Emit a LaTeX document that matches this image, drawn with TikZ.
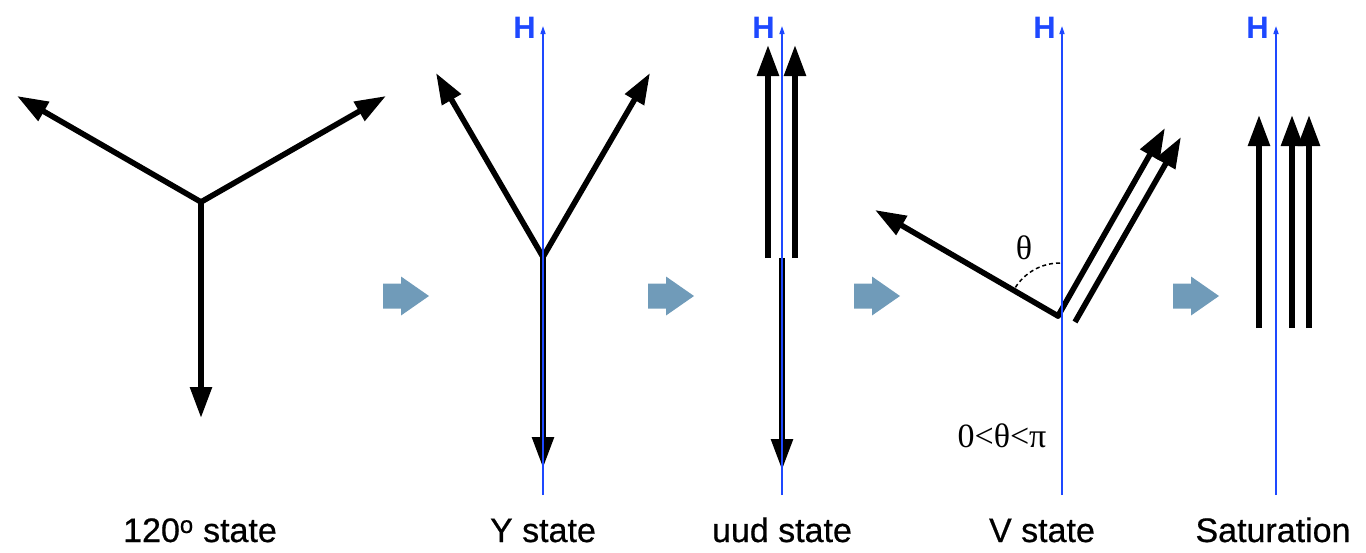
\documentclass[tikz,border=0pt]{standalone}
\usepackage{fontspec}
\setmainfont{Liberation Sans}
\newfontfamily\capfont{Liberation Sans}[FakeBold=0.6]
\newfontfamily\greekserif{Liberation Serif}
\usetikzlibrary{arrows.meta}
\definecolor{fieldblue}{RGB}{30,72,255}
\definecolor{stepblue}{RGB}{112,155,185}

\begin{document}
\begin{tikzpicture}[x=1pt,y=-1pt,
  spin/.style={line width=5.6pt,-{Triangle[length=31pt,width=21pt]}},
  joint/.style={line cap=round},
  field/.style={draw=fieldblue,line width=1.5pt,-{Triangle[length=8pt,width=5pt]}},
  hlabel/.style={text=fieldblue,font=\fontsize{31}{31}\selectfont\bfseries,inner sep=0pt,anchor=east},
  caption/.style={font=\capfont\fontsize{34}{34}\selectfont,anchor=base,inner sep=0pt},
  greek/.style={font=\greekserif\fontsize{34}{34}\selectfont,inner sep=0pt},
  anglearc/.style={line width=1.5pt,dash pattern=on 4pt off 3pt},
  steparrow/.pic={\fill[stepblue] (0,-12.5) -- (18,-12.5) -- (18,-19.5) -- (46,0)
                    -- (18,19.5) -- (18,12.5) -- (0,12.5) -- cycle;}
]
\useasboundingbox (0,0) rectangle (1366,552);

% ---------- 120 degree state ----------
\coordinate (a-c)  at (201,202);
\coordinate (a-ul) at (17,96);
\coordinate (a-ur) at (386,96);
\coordinate (a-d)  at (201,418);
\draw[spin,joint] (a-c) -- (a-ul);
\draw[spin,joint] (a-c) -- (a-ur);
\draw[spin,joint] (a-c) -- (a-d);
\node[caption] (a-cap) at (200,542) {120\textsuperscript{o} state};

\pic at (383,296) {steparrow};

% ---------- Y state ----------
\coordinate (y-c)   at (543,257);
\coordinate (y-ul)  at (436,73);
\coordinate (y-ur)  at (650,73);
\coordinate (y-d)   at (543,468);
\coordinate (y-bot) at (543,495);
\coordinate (y-top) at (543,26);
\draw[spin,joint] (y-c) -- (y-ul);
\draw[spin,joint] (y-c) -- (y-ur);
\draw[spin] (y-c) -- (y-d);
\draw[field] (y-bot) -- (y-top);
\node[hlabel] (y-H) at (536,28) {H};
\node[caption] (y-cap) at (543,542) {Y state};

\pic at (648,296) {steparrow};

% ---------- uud state ----------
\coordinate (u-l0) at (768,258);
\coordinate (u-l1) at (768,45);
\coordinate (u-r0) at (795,258);
\coordinate (u-r1) at (795,45);
\coordinate (u-c)  at (782,258);
\coordinate (u-d)  at (782,470);
\coordinate (u-bot) at (782,495);
\coordinate (u-top) at (782,26);
\draw[spin] (u-l0) -- (u-l1);
\draw[spin] (u-r0) -- (u-r1);
\draw[spin] (u-c) -- (u-d);
\draw[field] (u-bot) -- (u-top);
\node[hlabel] (u-H) at (775,28) {H};
\node[caption] (u-cap) at (782,542) {uud state};

\pic at (854,296) {steparrow};

% ---------- V state ----------
\coordinate (v-c)   at (1058,316);
\coordinate (v-l)   at (875,210);
\coordinate (v-r1)  at (1165,128);
\coordinate (v-r20) at (1075,322);
\coordinate (v-r21) at (1181,137);
\coordinate (v-arc) at (1060,263);
\coordinate (v-bot) at (1062,495);
\coordinate (v-top) at (1062,26);
\draw[spin,joint] (v-c) -- (v-l);
\draw[spin,joint] (v-c) -- (v-r1);
\draw[spin] (v-r20) -- (v-r21);
\draw[anglearc] (v-arc) arc[start angle=270,end angle=212,radius=53];
\draw[field] (v-bot) -- (v-top);
\node[hlabel] (v-H) at (1056,28) {H};
\node[greek] (v-theta) at (1024,248) {θ};
\node[greek,anchor=base] (v-range) at (1002,447) {0<θ<π};
\node[caption] (v-cap) at (1042,542) {V state};

\pic at (1173,296) {steparrow};

% ---------- Saturation ----------
\coordinate (s-a0) at (1259,328);
\coordinate (s-a1) at (1259,115);
\coordinate (s-b0) at (1292,328);
\coordinate (s-b1) at (1292,115);
\coordinate (s-c0) at (1309,328);
\coordinate (s-c1) at (1309,115);
\coordinate (s-bot) at (1276,495);
\coordinate (s-top) at (1276,26);
\draw[spin] (s-a0) -- (s-a1);
\draw[spin] (s-b0) -- (s-b1);
\draw[spin] (s-c0) -- (s-c1);
\draw[field] (s-bot) -- (s-top);
\node[hlabel] (s-H) at (1269,28) {H};
\node[caption] (s-cap) at (1273,542) {Saturation};
\end{tikzpicture}
\end{document}
